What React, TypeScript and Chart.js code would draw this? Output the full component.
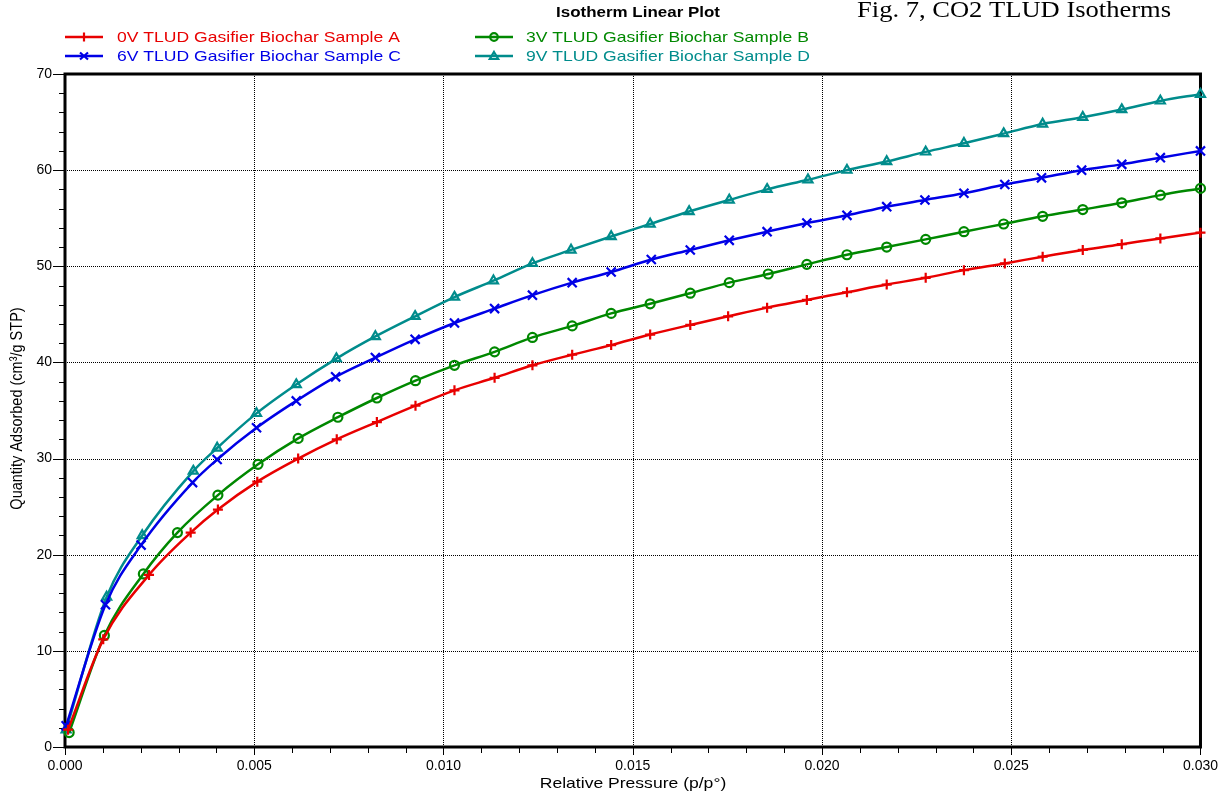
import React, { useEffect, useRef } from 'react';
import { Chart, registerables } from 'chart.js';

Chart.register(...registerables);

const TITLE = 'Isotherm Linear Plot';
const CAPTION = 'Fig. 7, CO2 TLUD Isotherms';
const X_TITLE = 'Relative Pressure (p/p°)';
const Y_TITLE = 'Quantity Adsorbed (cm³/g STP)';

const NAMES = [
  '0V TLUD Gasifier Biochar Sample A',
  '3V TLUD Gasifier Biochar Sample B',
  '6V TLUD Gasifier Biochar Sample C',
  '9V TLUD Gasifier Biochar Sample D',
];

const X_GRID = [0.005, 0.01, 0.015, 0.02, 0.025];
const Y_GRID = [10, 20, 30, 40, 50, 60];

// Sample A (0V)
const A_X = [0.00008, 0.00101, 0.00222, 0.00332, 0.00404, 0.00508, 0.00616, 0.00718, 0.00824, 0.00926,
  0.01029, 0.01135, 0.01235, 0.0134, 0.01443, 0.01546, 0.01652, 0.01752, 0.01855, 0.0196,
  0.02066, 0.02171, 0.02274, 0.02375, 0.02483, 0.02583, 0.02689, 0.02792, 0.02894, 0.03];
const A_Y = [1.8, 11.2, 17.9, 22.3, 24.7, 27.6, 30.0, 32.0, 33.8, 35.5,
  37.1, 38.4, 39.7, 40.8, 41.8, 42.9, 43.9, 44.8, 45.7, 46.5,
  47.3, 48.1, 48.8, 49.6, 50.3, 51.0, 51.7, 52.3, 52.9, 53.5];

// Sample B (3V)
const B_X = [0.00011, 0.00104, 0.00207, 0.00297, 0.00404, 0.0051, 0.00616, 0.00721, 0.00824, 0.00926,
  0.01029, 0.01135, 0.01235, 0.0134, 0.01443, 0.01546, 0.01652, 0.01755, 0.01858, 0.0196,
  0.02066, 0.02171, 0.02274, 0.02375, 0.0248, 0.02583, 0.02689, 0.02792, 0.02894, 0.03];
const B_Y = [1.5, 11.6, 18.0, 22.3, 26.2, 29.4, 32.1, 34.3, 36.3, 38.1,
  39.7, 41.1, 42.6, 43.8, 45.1, 46.1, 47.2, 48.3, 49.2, 50.2,
  51.2, 52.0, 52.8, 53.6, 54.4, 55.2, 55.9, 56.6, 57.4, 58.1];

// Sample C (6V)
const C_X = [0.00003, 0.00107, 0.00201, 0.00337, 0.00402, 0.00506, 0.00611, 0.00715, 0.0082, 0.00925,
  0.01029, 0.01135, 0.01235, 0.0134, 0.01443, 0.01549, 0.01652, 0.01755, 0.01855, 0.0196,
  0.02066, 0.02171, 0.02272, 0.02375, 0.02483, 0.0258, 0.02686, 0.02792, 0.02894, 0.03];
const C_Y = [2.2, 14.8, 21.0, 27.5, 29.9, 33.2, 36.0, 38.5, 40.5, 42.4,
  44.1, 45.6, 47.0, 48.3, 49.4, 50.7, 51.7, 52.7, 53.6, 54.5,
  55.3, 56.2, 56.9, 57.6, 58.5, 59.2, 60.0, 60.6, 61.3, 62.0];

// Sample D (9V)
const D_X = [0.00003, 0.0011, 0.00204, 0.00339, 0.00402, 0.00506, 0.00611, 0.00717, 0.0082, 0.00925,
  0.01029, 0.01132, 0.01235, 0.01337, 0.01443, 0.01546, 0.01649, 0.01755, 0.01855, 0.01963,
  0.02066, 0.02171, 0.02274, 0.02375, 0.0248, 0.02583, 0.02689, 0.02792, 0.02894, 0.03];
const D_Y = [1.8, 15.6, 22.0, 28.7, 31.1, 34.7, 37.7, 40.4, 42.7, 44.8,
  46.8, 48.5, 50.3, 51.7, 53.1, 54.4, 55.7, 56.9, 58.0, 59.0,
  60.0, 60.9, 61.9, 62.8, 63.8, 64.8, 65.5, 66.3, 67.2, 67.9];

const COLORS = ['rgb(232,0,0)', 'rgb(0,136,0)', 'rgb(0,0,230)', 'rgb(0,140,140)'];
const STYLES = ['cross', 'circle', 'crossRot', 'triangle'];
const RADII = [5, 4.5, 6.4, 5.2];

const STRETCH = 1.17;
const SANS = 'Arial, "Liberation Sans", sans-serif';
const SERIF = '"Times New Roman", "Liberation Serif", serif';

function stretchedText(ctx: CanvasRenderingContext2D, text: string, x: number, y: number, font: string, color: string, align: string) {
  ctx.save();
  ctx.font = font;
  ctx.fillStyle = color;
  ctx.textBaseline = 'alphabetic';
  ctx.textAlign = 'left';
  const w = ctx.measureText(text).width * STRETCH;
  let left = x;
  if (align === 'center') left = x - w / 2;
  else if (align === 'right') left = x - w;
  ctx.translate(left, y);
  ctx.scale(STRETCH, 1);
  ctx.fillText(text, 0, 0);
  ctx.restore();
}

function legendMarker(ctx: CanvasRenderingContext2D, style: string, x: number, y: number, color: string) {
  ctx.save();
  ctx.strokeStyle = color;
  ctx.lineWidth = 2.2;
  ctx.beginPath();
  if (style === 'cross') {
    ctx.moveTo(x - 4, y); ctx.lineTo(x + 4, y);
    ctx.moveTo(x, y - 4.5); ctx.lineTo(x, y + 4.5);
  } else if (style === 'crossRot') {
    ctx.moveTo(x - 4, y - 3.5); ctx.lineTo(x + 4, y + 3.5);
    ctx.moveTo(x - 4, y + 3.5); ctx.lineTo(x + 4, y - 3.5);
  } else if (style === 'circle') {
    ctx.arc(x, y, 3.8, 0, Math.PI * 2);
  } else {
    ctx.moveTo(x, y - 4);
    ctx.lineTo(x + 4.2, y + 3);
    ctx.lineTo(x - 4.2, y + 3);
    ctx.closePath();
  }
  ctx.stroke();
  ctx.restore();
}

const framePlugin = {
  id: 'framePlugin',
  beforeDatasetsDraw(chart: any) {
    const { ctx, chartArea: ca, scales } = chart;
    const xs = scales.x;
    const ys = scales.y;
    ctx.save();
    ctx.strokeStyle = '#000';
    ctx.lineWidth = 1;
    ctx.setLineDash([1, 1]);
    ctx.beginPath();
    X_GRID.forEach((v) => {
      const px = Math.round(xs.getPixelForValue(v)) + 0.5;
      ctx.moveTo(px, ca.top);
      ctx.lineTo(px, ca.bottom);
    });
    Y_GRID.forEach((v) => {
      const py = Math.round(ys.getPixelForValue(v)) + 0.5;
      ctx.moveTo(ca.left, py);
      ctx.lineTo(ca.right, py);
    });
    ctx.stroke();
    ctx.setLineDash([]);
    ctx.beginPath();
    for (let i = 0; i <= 30; i++) {
      const v = i * 0.001;
      const px = Math.round(xs.getPixelForValue(v)) + 0.5;
      const len = i % 5 === 0 ? 8 : 6;
      ctx.moveTo(px, ca.bottom);
      ctx.lineTo(px, ca.bottom + len);
    }
    for (let i = 0; i <= 35; i++) {
      const v = i * 2;
      const py = Math.round(ys.getPixelForValue(v)) + 0.5;
      const len = i % 5 === 0 ? 12 : 6;
      ctx.moveTo(ca.left - len, py);
      ctx.lineTo(ca.left, py);
    }
    ctx.stroke();
    ctx.lineWidth = 3;
    ctx.strokeRect(ca.left, ca.top, ca.right - ca.left, ca.bottom - ca.top);
    ctx.restore();
  },
  afterDraw(chart: any) {
    const { ctx, chartArea: ca } = chart;
    stretchedText(ctx, TITLE, 638, 17, 'bold 14.5px ' + SANS, '#000', 'center');
    stretchedText(ctx, CAPTION, 857, 17, '22.7px ' + SERIF, '#000', 'left');
    const cols = [
      { lineX: 65, textX: 117 },
      { lineX: 475, textX: 526 },
    ];
    const rows = [37, 56];
    const order = [0, 2, 1, 3];
    order.forEach((si, k) => {
      const col = cols[Math.floor(k / 2)];
      const y = rows[k % 2];
      ctx.save();
      ctx.strokeStyle = COLORS[si];
      ctx.lineWidth = 2.5;
      ctx.beginPath();
      ctx.moveTo(col.lineX, y);
      ctx.lineTo(col.lineX + 38, y);
      ctx.stroke();
      ctx.restore();
      legendMarker(ctx, STYLES[si], col.lineX + 19, y, COLORS[si]);
      stretchedText(ctx, NAMES[si], col.textX, y + 5.4, '15px ' + SANS, COLORS[si], 'left');
    });
    stretchedText(ctx, X_TITLE, 633, 788, '15px ' + SANS, '#000', 'center');
    ctx.save();
    ctx.font = '14.5px ' + SANS;
    ctx.fillStyle = '#000';
    ctx.textBaseline = 'middle';
    ctx.textAlign = 'center';
    ctx.translate(17, (ca.top + ca.bottom) / 2 - 2);
    ctx.rotate(-Math.PI / 2);
    ctx.scale(1, STRETCH);
    ctx.fillText(Y_TITLE, 0, 0);
    ctx.restore();
  },
};

export default function App() {
  const ref = useRef<HTMLCanvasElement | null>(null);

  useEffect(() => {
    if (!ref.current) return;
    const seriesX = [A_X, B_X, C_X, D_X];
    const seriesY = [A_Y, B_Y, C_Y, D_Y];
    const datasets = NAMES.map((name, i) => ({
      label: name,
      data: seriesX[i].map((x, j) => ({ x, y: seriesY[i][j] })),
      borderColor: COLORS[i],
      backgroundColor: 'rgba(0,0,0,0)',
      borderWidth: 2.5,
      pointStyle: STYLES[i],
      pointRadius: RADII[i],
      pointBorderWidth: 2.2,
      pointBorderColor: COLORS[i],
      pointBackgroundColor: 'rgba(0,0,0,0)',
      cubicInterpolationMode: 'monotone',
      clip: false,
    }));
    const chart = new Chart(ref.current, {
      type: 'line',
      data: { datasets } as any,
      options: {
        responsive: false,
        animation: false,
        events: [],
        layout: { padding: { left: 0, top: 74, right: 27, bottom: 0 } },
        plugins: {
          legend: { display: false },
          title: { display: false },
          tooltip: { enabled: false },
        },
        scales: {
          x: {
            type: 'linear',
            min: 0,
            max: 0.03,
            grid: { display: false, drawTicks: false },
            border: { display: false },
            ticks: {
              stepSize: 0.005,
              autoSkip: false,
              maxRotation: 0,
              padding: 11,
              color: '#000',
              font: { family: SANS, size: 14 },
              callback: (v: any) => Number(v).toFixed(3),
            },
            afterFit: (s: any) => { s.height = 51; },
          },
          y: {
            type: 'linear',
            min: 0,
            max: 70,
            grid: { display: false, drawTicks: false },
            border: { display: false },
            ticks: {
              stepSize: 10,
              padding: 13,
              color: '#000',
              font: { family: SANS, size: 14 },
            },
            afterFit: (s: any) => { s.width = 65; },
          },
        },
      } as any,
      plugins: [framePlugin],
    });
    return () => chart.destroy();
  }, []);

  return (
    <div style={{ position: 'fixed', left: 0, top: 0, width: 1229, height: 798, background: '#fff' }}>
      <canvas ref={ref} width={1229} height={798} style={{ display: 'block' }} />
    </div>
  );
}
